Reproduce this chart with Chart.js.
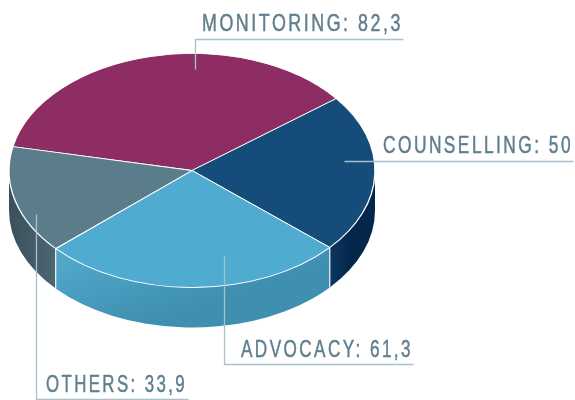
<!DOCTYPE html>
<html>
<head>
<meta charset="utf-8">
<style>
  html, body { margin: 0; padding: 0; background: #fff; }
  canvas { display: block; }
</style>
<script src="https://cdn.jsdelivr.net/npm/chart.js@4/dist/chart.umd.js"></script>
</head>
<body>
<canvas id="pie" width="575" height="400"></canvas>
<script>
const categories = ["MONITORING", "COUNSELLING", "ADVOCACY", "OTHERS"]
const values = [82.3, 50, 61.3, 33.9]
const sliceColors = ["#8e2d63", "#154c79", "#4fabd0", "#5a7c8b"]

// side wall gradient stops per slice (monitoring never shows a wall)
const wallColors = [
  ["#8e2d63", "#8e2d63"],
  ["#0c3760", "#03264a"],
  ["#4fa6c8", "#3f8fb0"],
  ["#3a505b", "#4c6672"],
]

// leader line paths, in page pixels: anchor, elbow, end
const callouts = [
  { line: [[195, 69], [195, 39], [403, 39]], textX: 202, textY: 31, textW: 201 },
  { line: [[344, 161], [573, 161]], textX: 383, textY: 153, textW: 190 },
  { line: [[224, 256], [224, 364], [413, 364]], textX: 241, textY: 357, textW: 172 },
  { line: [[36, 214], [36, 399], [188, 399]], textX: 46, textY: 392, textW: 141 },
]

const pieBox = { cx: 192, cy: 170.5, rx: 183, ry: 117, depth: 40 }

function applyPieTransform(ctx, arc) {
  ctx.translate(pieBox.cx, pieBox.cy)
  ctx.scale(pieBox.rx / arc.outerRadius, pieBox.ry / arc.outerRadius)
  ctx.translate(-arc.x, -arc.y)
}

function wallGradient(ctx, i) {
  let g
  if (i === 2) g = ctx.createLinearGradient(100, 255, 125, 330)
  else if (i === 1) g = ctx.createLinearGradient(330, 0, 352, 0)
  else g = ctx.createLinearGradient(9, 0, 55, 0)
  g.addColorStop(0, wallColors[i][0])
  g.addColorStop(1, wallColors[i][1])
  return g
}

const pie3d = {
  id: "pie3d",
  beforeDatasetsDraw(chart) {
    const ctx = chart.ctx
    const arcs = chart.getDatasetMeta(0).data
    const { cx, cy, rx, ry, depth } = pieBox
    ctx.save()
    arcs.forEach((arc, i) => {
      // only the part of a slice facing the viewer gets a wall
      const start = Math.max(arc.startAngle, 0)
      const end = Math.min(arc.endAngle, Math.PI)
      if (end <= start) return
      ctx.beginPath()
      ctx.ellipse(cx, cy, rx, ry, 0, start, end)
      ctx.ellipse(cx, cy + depth, rx, ry, 0, end, start, true)
      ctx.closePath()
      ctx.fillStyle = wallGradient(ctx, i)
      ctx.fill()
    })
    // white seams between two walls
    ctx.strokeStyle = "#f2f6f8"
    ctx.lineWidth = 1.2
    arcs.forEach(arc => {
      const a = arc.endAngle
      if (Math.sin(a) <= 0) return
      const x = cx + rx * Math.cos(a)
      const y = cy + ry * Math.sin(a)
      ctx.beginPath()
      ctx.moveTo(x, y)
      ctx.lineTo(x, y + depth)
      ctx.stroke()
    })
    ctx.restore()
    ctx.save()
    applyPieTransform(ctx, arcs[0])
  },
  afterDatasetsDraw(chart) {
    const ctx = chart.ctx
    ctx.restore()
    callouts.forEach((c, i) => {
      ctx.save()
      ctx.strokeStyle = "#a9c0cf"
      ctx.lineWidth = 1.3
      ctx.beginPath()
      c.line.forEach((p, k) => {
        if (k === 0) ctx.moveTo(p[0] + 0.5, p[1] + 0.5)
        else ctx.lineTo(p[0] + 0.5, p[1] + 0.5)
      })
      ctx.stroke()
      // no condensed face installed, so squeeze Liberation Sans to the label width
      const text = categories[i] + ": " + String(values[i]).replace(".", ",")
      ctx.font = '24px "Liberation Sans", sans-serif'
      ctx.letterSpacing = "3.4px"
      ctx.textBaseline = "alphabetic"
      const squeeze = c.textW / ctx.measureText(text).width
      ctx.translate(c.textX, c.textY)
      ctx.scale(squeeze, 1)
      ctx.fillStyle = "#5f7f90"
      ctx.strokeStyle = "#5f7f90"
      ctx.lineWidth = 0.5
      ctx.fillText(text, 0, 0)
      ctx.strokeText(text, 0, 0)
      ctx.restore()
    })
  },
}

const rotation = -78.2

new Chart(document.getElementById("pie"), {
  type: "pie",
  data: {
    labels: categories,
    datasets: [
      {
        data: values,
        backgroundColor: sliceColors,
        borderColor: "#fff",
        borderWidth: 1.5,
      },
    ],
  },
  options: {
    responsive: false,
    animation: false,
    rotation: rotation,
    events: [],
    plugins: {
      legend: { display: false },
      tooltip: { enabled: false },
    },
  },
  plugins: [pie3d],
})
</script>
</body>
</html>
